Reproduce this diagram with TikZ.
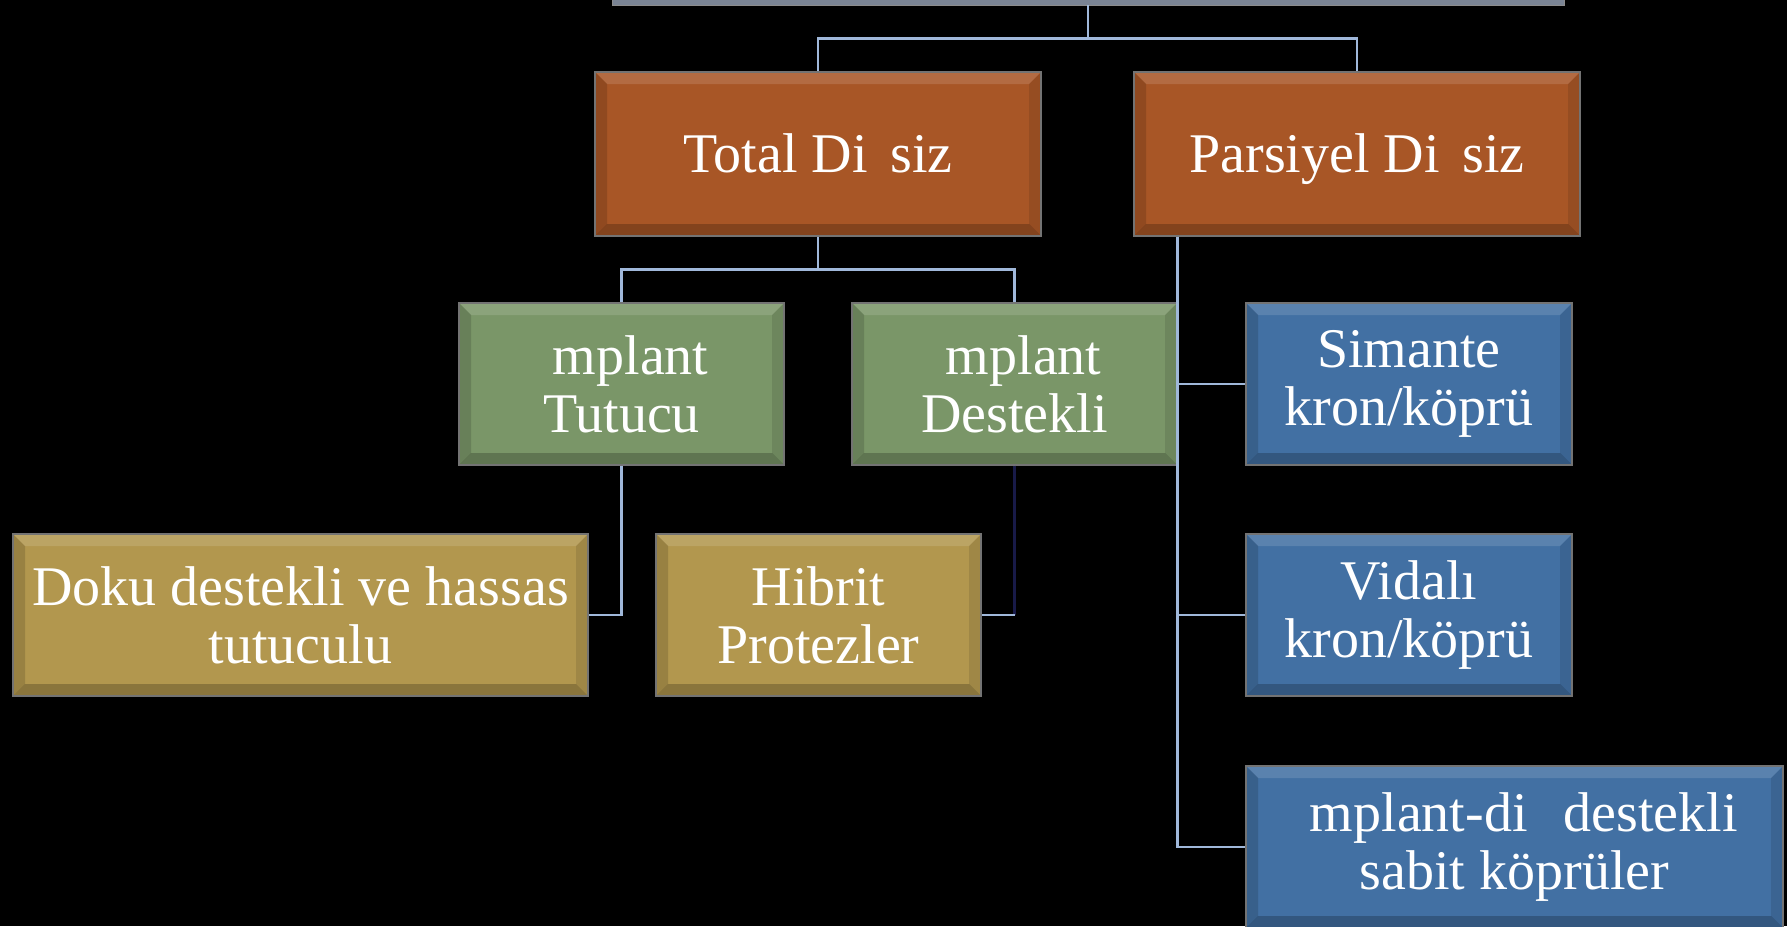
\documentclass[tikz,border=0pt]{standalone}
\usepackage{fontspec}
\setmainfont{Liberation Serif}

\definecolor{boxorange}{RGB}{168,86,38}
\definecolor{boxgreen}{RGB}{122,150,104}
\definecolor{boxgold}{RGB}{178,151,78}
\definecolor{boxblue}{RGB}{66,112,163}
\definecolor{rootgray}{RGB}{122,132,148}
\definecolor{linkblue}{RGB}{160,184,218}
\definecolor{linkdark}{RGB}{24,26,72}

\tikzset{every picture/.style={line width=0.75pt}}

\begin{document}
\begin{tikzpicture}[x=1pt,y=1pt,yscale=-1,xscale=1,
  box/.style={minimum height=162pt, inner sep=0pt, align=center, text=white,
    font=\fontsize{56}{58}\selectfont, draw=black!55, line width=1.2pt,
    path picture={
      \fill[white,opacity=0.13] (path picture bounding box.north west) -- (path picture bounding box.north east)
        -- ([shift={(-12,-12)}]path picture bounding box.north east) -- ([shift={(12,-12)}]path picture bounding box.north west) -- cycle;
      \fill[black,opacity=0.14] (path picture bounding box.north west) -- ([shift={(12,-12)}]path picture bounding box.north west)
        -- ([shift={(12,12)}]path picture bounding box.south west) -- (path picture bounding box.south west) -- cycle;
      \fill[black,opacity=0.10] (path picture bounding box.north east) -- ([shift={(-12,-12)}]path picture bounding box.north east)
        -- ([shift={(-12,12)}]path picture bounding box.south east) -- (path picture bounding box.south east) -- cycle;
      \fill[black,opacity=0.22] (path picture bounding box.south west) -- (path picture bounding box.south east)
        -- ([shift={(-12,12)}]path picture bounding box.south east) -- ([shift={(12,12)}]path picture bounding box.south west) -- cycle;
    }},
  topbox/.style={box, fill=boxorange, minimum width=446pt, minimum height=164pt, text height=37pt, text depth=0pt},
  midbox/.style={box, fill=boxgreen, minimum width=325pt},
  lowbox/.style={box, fill=boxgold},
  sidebox/.style={box, fill=boxblue},
  link/.style={draw=linkblue, line width=2.5pt},
  darklink/.style={draw=linkdark, line width=2.5pt}]
\useasboundingbox (0,0) rectangle (1787,926);
\clip (0,0) rectangle (1787,926);
\fill[black] (0,0) rectangle (1787,926);

% top level box, only its lower edge shows
\node[draw=black!45, fill=rootgray, minimum width=952pt, minimum height=20pt, inner sep=0pt] (root) at (1088,-5) {};

% second level
\node[topbox] (total) at (818,154) {Total Di\hspace{.4em}siz};
\node[topbox] (parsiyel) at (1357,154) {Parsiyel Di\hspace{.4em}siz};

% third level
\node[midbox] (tutucu) at (621.5,384) {\hspace*{.33em}mplant\\Tutucu};
\node[midbox] (destekli) at (1014.5,384) {\hspace*{.33em}mplant\\Destekli};

% fourth level
\node[lowbox, minimum width=575pt] (doku) at (300.5,615) {Doku destekli ve hassas\\tutuculu};
\node[lowbox, minimum width=325pt] (hibrit) at (818.5,615) {Hibrit\\Protezler};

% partial side
\node[sidebox, minimum width=326pt] (simante) at (1409,384) {Simante\\kron/köprü};
\node[sidebox, minimum width=326pt] (vidali) at (1409,615) {Vidalı\\kron/köprü};
\node[sidebox, minimum width=537pt] (sabit) at (1514.5,847) {\hspace*{.33em}mplant-di\hspace{.64em}destekli\\sabit köprüler};

% connectors
\draw[link] (root.south) -- ++(0,33) coordinate (rootjoin) -| (total.north);
\draw[link] (rootjoin) -| (parsiyel.north);
\draw[link] (total.south) -- ++(0,33) coordinate (totaljoin) -| (tutucu.north);
\draw[link] (totaljoin) -| (destekli.north);
\draw[link] (tutucu.south) |- (doku.east);
\draw[darklink] (destekli.south) -- (destekli.south |- hibrit.east) coordinate (hibritjoin);
\draw[link] (hibritjoin) -- (hibrit.east);
\draw[link] (parsiyel.south -| destekli.east) |- (sabit.west);
\draw[link] (parsiyel.south -| destekli.east) |- (simante.west);
\draw[link] (parsiyel.south -| destekli.east) |- (vidali.west);

\end{tikzpicture}
\end{document}
